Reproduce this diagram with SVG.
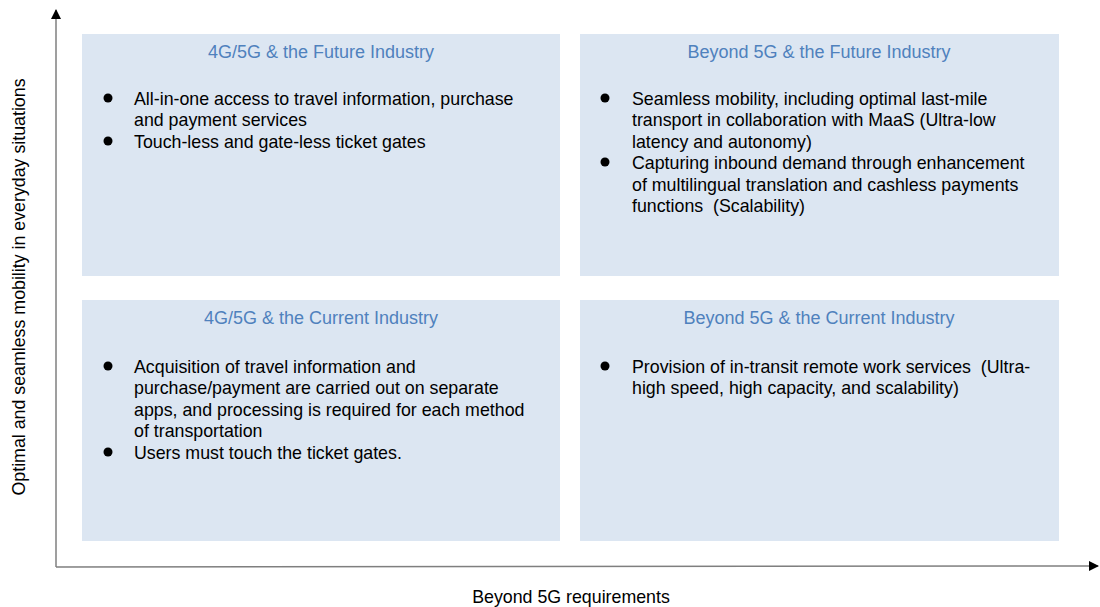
<svg xmlns="http://www.w3.org/2000/svg" width="1100" height="607" viewBox="0 0 1100 607">
<defs>
<marker id="arr" markerWidth="10" markerHeight="10" refX="9" refY="5" orient="auto" markerUnits="userSpaceOnUse">
<path d="M0,0 L10,5 L0,10 Z" fill="#000"/>
</marker>
<style>
.box{fill:#dce6f2}
.title{font-family:"Liberation Sans",Arial,sans-serif;font-size:18px;fill:#4f81bd;text-anchor:middle}
.txt{font-family:"Liberation Sans",Arial,sans-serif;font-size:17.8px;fill:#000}
.dot{fill:#000}
.axis{stroke:#7f7f7f;stroke-width:1.5;fill:none}
</style>
</defs>
<rect width="1100" height="607" fill="#fff"/>
<g id="connectors">
<line class="axis" x1="56" y1="567" x2="56" y2="10" marker-end="url(#arr)"/>
<line class="axis" x1="56" y1="567" x2="1098" y2="566" marker-end="url(#arr)"/>
</g>
<g id="q-future-4g">
<rect class="box" x="82" y="34" width="478" height="242"/>
<text class="title" x="321" y="57.5">4G/5G &amp; the Future Industry</text>
<circle class="dot" cx="108" cy="98" r="4.5"/>
<text class="txt" x="134" y="104.5">All-in-one access to travel information, purchase</text>
<text class="txt" x="134" y="126">and payment services</text>
<circle class="dot" cx="108" cy="141" r="4.5"/>
<text class="txt" x="134" y="147.5">Touch-less and gate-less ticket gates</text>
</g>
<g id="q-future-b5g">
<rect class="box" x="580" y="34" width="479" height="242"/>
<text class="title" x="819" y="57.5">Beyond 5G &amp; the Future Industry</text>
<circle class="dot" cx="605" cy="98" r="4.5"/>
<text class="txt" x="632" y="104.5">Seamless mobility, including optimal last-mile</text>
<text class="txt" x="632" y="126">transport in collaboration with MaaS (Ultra-low</text>
<text class="txt" x="632" y="147.5">latency and autonomy)</text>
<circle class="dot" cx="605" cy="162" r="4.5"/>
<text class="txt" x="632" y="169">Capturing inbound demand through enhancement</text>
<text class="txt" x="632" y="190.5">of multilingual translation and cashless payments</text>
<text class="txt" x="632" y="212">functions&#160; (Scalability)</text>
</g>
<g id="q-current-4g">
<rect class="box" x="82" y="300" width="478" height="241"/>
<text class="title" x="321" y="323.5">4G/5G &amp; the Current Industry</text>
<circle class="dot" cx="108" cy="366" r="4.5"/>
<text class="txt" x="134" y="372.5">Acquisition of travel information and</text>
<text class="txt" x="134" y="394">purchase/payment are carried out on separate</text>
<text class="txt" x="134" y="415.5">apps, and processing is required for each method</text>
<text class="txt" x="134" y="437">of transportation</text>
<circle class="dot" cx="108" cy="452" r="4.5"/>
<text class="txt" x="134" y="458.5">Users must touch the ticket gates.</text>
</g>
<g id="q-current-b5g">
<rect class="box" x="580" y="300" width="479" height="241"/>
<text class="title" x="819" y="323.5">Beyond 5G &amp; the Current Industry</text>
<circle class="dot" cx="605" cy="366" r="4.5"/>
<text class="txt" x="632" y="372.5">Provision of in-transit remote work services&#160; (Ultra-</text>
<text class="txt" x="632" y="394">high speed, high capacity, and scalability)</text>
</g>
<g id="axis-labels">
<text class="txt" x="571" y="603" text-anchor="middle">Beyond 5G requirements</text>
<text class="txt" transform="translate(25,287) rotate(-90)" text-anchor="middle">Optimal and seamless mobility in everyday situations</text>
</g>
</svg>
